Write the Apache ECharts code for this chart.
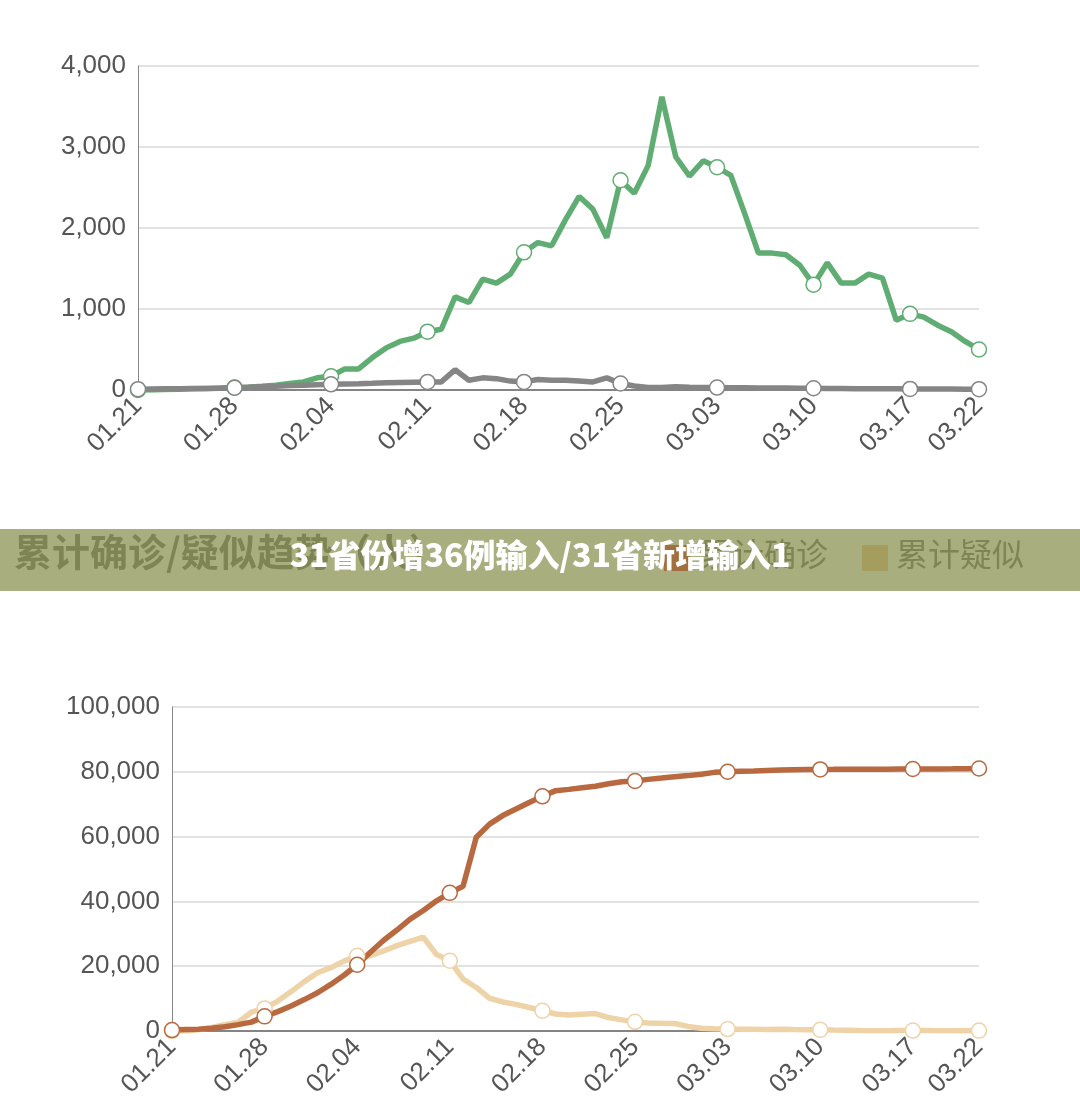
<!DOCTYPE html>
<html>
<head>
<meta charset="UTF-8">
<title>31省份增36例输入</title>
<script src="https://cdn.jsdelivr.net/npm/echarts@6/dist/echarts.min.js"></script>
<style>body{margin:0;background:#fff}#chart{width:1080px;height:1120px}</style>
</head>
<body>
<div id="chart"></div>
<script>
// dates 01.21 - 03.22
var dates = [];
(function () {
    var m = [[1, 21, 31], [2, 1, 29], [3, 1, 22]];
    for (var k = 0; k < m.length; k++) {
        for (var d = m[k][1]; d <= m[k][2]; d++) {
            dates.push('0' + m[k][0] + '.' + (d < 10 ? '0' + d : d));
        }
    }
})();
var markIdx = [0, 7, 14, 21, 28, 35, 42, 49, 56, 61];

// top chart: daily new suspected (green) / other (gray)
var newSuspect = [0, 0, 5, 10, 15, 20, 25, 30, 35, 45, 60, 80, 100, 150, 170, 260, 260, 400, 520, 600,
    640, 720, 750, 1150, 1080, 1370, 1320, 1430, 1700, 1820, 1780, 2100, 2390, 2230, 1880, 2590, 2430, 2770,
    3620, 2880, 2640, 2830, 2750, 2650, 2180, 1690, 1690, 1670, 1540, 1300, 1570, 1320, 1320, 1430, 1380,
    860, 940, 900, 800, 720, 600, 500];
var newOther = [10, 12, 14, 16, 18, 20, 22, 28, 35, 40, 45, 55, 60, 65, 70, 75, 78, 82, 88, 92,
    96, 100, 100, 250, 120, 150, 140, 110, 100, 130, 120, 120, 110, 100, 150, 80, 50, 30, 30, 40, 35,
    32, 30, 28, 27, 26, 25, 24, 23, 22, 20, 18, 16, 15, 15, 14, 13, 12, 12, 11, 10, 10];

// bottom chart: cumulative confirmed / cumulative suspected
var cumConfirm = [291, 440, 571, 830, 1287, 1975, 2744, 4515, 5974, 7711, 9692, 11791, 14380, 17205,
    20438, 24324, 28018, 31161, 34546, 37198, 40171, 42638, 44653, 59804, 63851, 66492, 68500, 70548,
    72436, 74185, 74576, 75077, 75550, 76288, 76936, 77150, 77658, 78064, 78497, 78824, 79251, 79824,
    80026, 80151, 80270, 80409, 80552, 80651, 80695, 80735, 80754, 80778, 80793, 80813, 80824, 80844,
    80860, 80881, 80894, 80928, 80967, 81008];
var cumSuspect = [0, 0, 393, 1072, 1965, 2684, 5794, 6973, 9239, 12167, 15238, 17988, 19544, 21558,
    23214, 23260, 24702, 26359, 27657, 28942, 23589, 21675, 16067, 13435, 10109, 8969, 8228, 7264, 6242,
    5248, 4922, 5206, 5365, 4148, 3434, 2824, 2491, 2358, 2308, 1418, 851, 715, 587, 520, 522, 482, 502,
    458, 421, 351, 285, 253, 147, 115, 113, 134, 128, 119, 105, 104, 106, 118];

function withMarks(arr) {
    return arr.map(function (v, i) {
        return markIdx.indexOf(i) >= 0 ? v : { value: v, symbol: 'none' };
    });
}
function lineSeries(name, data, color, xi) {
    return {
        name: name, type: 'line', xAxisIndex: xi, yAxisIndex: xi, data: withMarks(data),
        symbol: 'circle', symbolSize: 15, showAllSymbol: true,
        lineStyle: { color: color, width: 5.5 },
        itemStyle: { color: '#fff', borderColor: color, borderWidth: 1.5 },
        emphasis: { disabled: true }
    };
}
var labelStyle = { color: '#555', fontSize: 26, fontFamily: 'Liberation Sans, Arial' };
function xAxis(gi) {
    return {
        type: 'category', gridIndex: gi, data: dates, boundaryGap: false,
        axisLine: { lineStyle: { color: '#666', width: 1.5 } }, axisTick: { show: false },
        axisLabel: Object.assign({ rotate: 45, margin: 12,
            interval: function (i) { return markIdx.indexOf(i) >= 0; } }, labelStyle)
    };
}
function yAxis(gi, max, interval) {
    return {
        type: 'value', gridIndex: gi, min: 0, max: max, interval: interval,
        axisLine: { show: true, lineStyle: { color: '#888' } }, axisTick: { show: false },
        splitLine: { lineStyle: { color: '#d8d8d8', width: 1.5 } },
        axisLabel: Object.assign({ margin: 12, formatter: function (v) { return v.toLocaleString('en-US'); } }, labelStyle)
    };
}

var chart = echarts.init(document.getElementById('chart'));
chart.setOption({
    animation: false,
    grid: [
        { left: 138, right: 101, top: 66, bottom: 730 },
        { left: 172, right: 101, top: 707, bottom: 89 }
    ],
    xAxis: [xAxis(0), xAxis(1)],
    yAxis: [yAxis(0, 4000, 1000), yAxis(1, 100000, 20000)],
    series: [
        lineSeries('新增疑似', newSuspect, '#5fad72', 0),
        lineSeries('其他', newOther, '#858585', 0),
        lineSeries('累计疑似', cumSuspect, '#efd3a8', 1),
        lineSeries('累计确诊', cumConfirm, '#b8693f', 1)
    ],
    graphic: [
        { type: 'rect', shape: { x: 0, y: 529, width: 1080, height: 62 }, style: { fill: '#a8ae7e' } },
        { type: 'text', left: 14, top: 533, style: { text: '累计确诊/疑似趋势（人）', fill: '#7f8455',
            font: 'bold 38px "Noto Sans CJK SC"' } },
        { type: 'rect', shape: { x: 664, y: 545, width: 26, height: 26 }, style: { fill: '#a2703e' } },
        { type: 'text', left: 700, top: 538, style: { text: '累计确诊', fill: '#7f8455', font: '32px "Noto Sans CJK SC"' } },
        { type: 'rect', shape: { x: 862, y: 545, width: 26, height: 26 }, style: { fill: '#a59d5e' } },
        { type: 'text', left: 896, top: 538, style: { text: '累计疑似', fill: '#7f8455', font: '32px "Noto Sans CJK SC"' } },
        { type: 'text', left: 'center', top: 539, style: { text: '31省份增36例输入/31省新增输入1', fill: '#fff',
            font: '900 32px "Noto Sans CJK SC"' } }
    ]
});
</script>
</body>
</html>
